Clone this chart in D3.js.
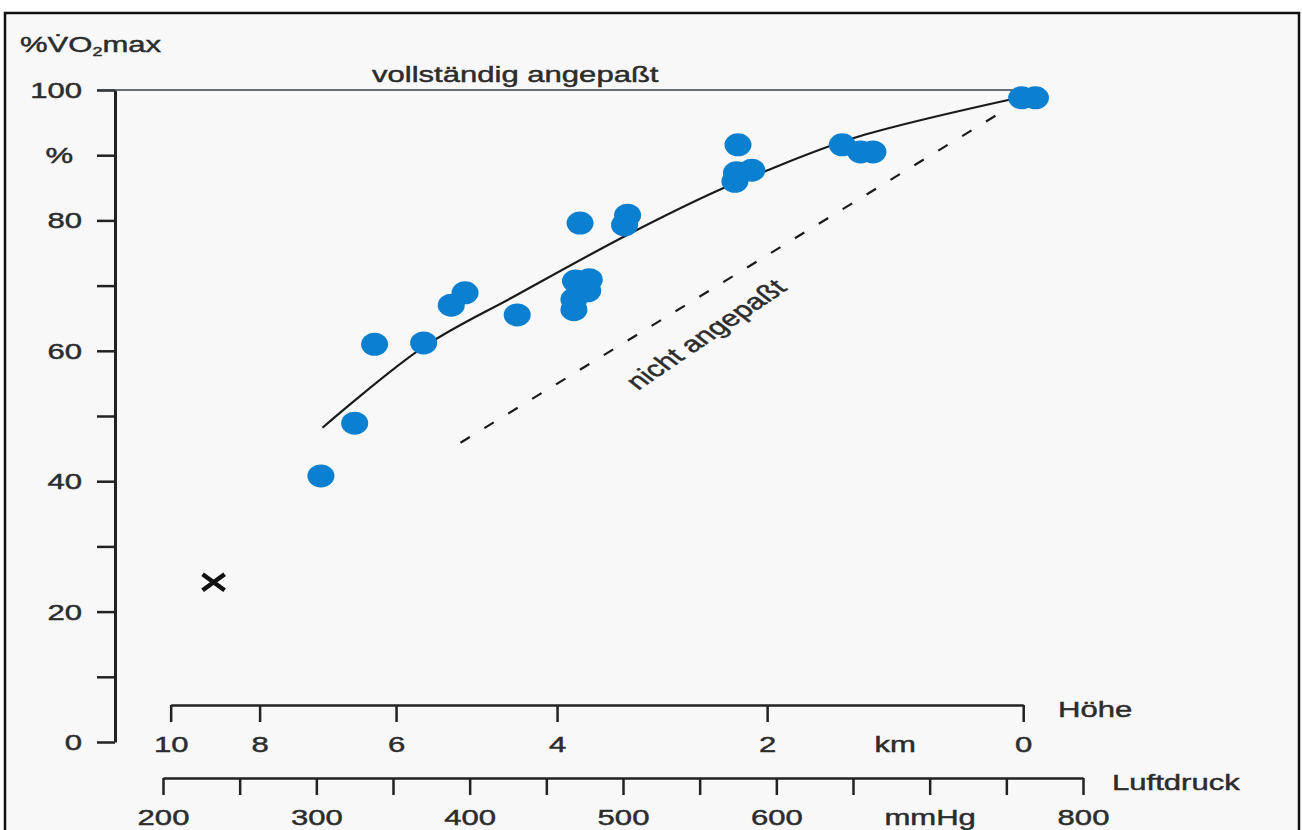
<!DOCTYPE html>
<html>
<head>
<meta charset="utf-8">
<script src="https://cdn.jsdelivr.net/npm/d3@7"></script>
<style>
  html, body { margin: 0; padding: 0; background: #ffffff; }
  svg { display: block; }
  text { font-family: "Liberation Sans", Arial, Helvetica, sans-serif; fill: #2c2c2c; stroke: #2c2c2c; stroke-width: 0.45px; }
</style>
</head>
<body>
<svg id="chart" width="1302" height="830"></svg>
<script>
// Measured points: air pressure (mmHg) and attained share of VO2max (%)
const pointPressure = [303, 325, 338, 370, 388, 397, 431, 472, 503, 501,
                       469, 478, 477, 468, 468, 575, 574, 584, 573,
                       643, 655, 663, 760, 769];
const pointVO2 = [40.8, 48.9, 61.0, 61.2, 67.0, 68.9, 65.5, 79.6, 80.8, 79.3,
                  70.7, 70.9, 69.2, 67.9, 66.3, 91.6, 87.3, 87.7, 86.0,
                  91.6, 90.5, 90.5, 98.8, 98.8];

// Adapted subjects: fitted trend
const trendPressure = [304, 370, 431, 503, 563, 591, 650, 752];
const trendVO2 = [48.2, 60.6, 68.6, 77.8, 84.7, 87.4, 92.6, 98.5];

// Non-adapted subjects
const naPressure = [394, 746];
const naVO2 = [45.9, 96.5];

// Single marker at extreme altitude
const crossPressure = [233];
const crossVO2 = [24.5];

// Axes
const yTicks = [0, 10, 20, 30, 40, 50, 60, 70, 80, 90, 100];
const yTickLabels = ["0", "", "20", "", "40", "", "60", "", "80", "%", "100"];
const pressureTicks = [200, 250, 300, 350, 400, 450, 500, 550, 600, 650, 700, 750, 800];
const pressureTickLabels = ["200", "", "300", "", "400", "", "500", "", "600", "", "mmHg", "", "800"];
const altitudeKm = [10, 8, 6, 4, 2, 0];
const altitudePressure = [205, 263, 352, 457, 594, 761];

const SX = 1.38;      // horizontal stretch of lettering
const FS = 22.5;
const ink = "#222";

const svg = d3.select("#chart");

// page frame
svg.append("rect").attr("x", 5).attr("y", 13).attr("width", 1294).attr("height", 830)
  .attr("fill", "#f8f8f8").attr("stroke", "#111").attr("stroke-width", 2.5);

const x = d3.scaleLinear().domain([200, 800]).range([163, 1083]);
const y = d3.scaleLinear().domain([0, 100]).range([742, 90]);
const altX = d3.scaleLinear().domain(altitudeKm).range(altitudePressure.map(p => x(p)));
const yAxisX = 115;

function label(px, py, str, anchor = "start", size = FS) {
  return svg.append("text")
    .attr("transform", `translate(${px},${py}) scale(${SX},1)`)
    .attr("text-anchor", anchor)
    .attr("font-size", size)
    .text(str);
}

function styleTickText(sel) {
  sel.attr("font-size", FS).attr("font-family", null).attr("fill", null);
}

// Y axis
const yAxis = svg.append("g").attr("transform", `translate(${yAxisX},0)`)
  .call(d3.axisLeft(y).tickValues(yTicks).tickSize(18).tickSizeOuter(0)
    .tickFormat((d, i) => yTickLabels[i]));
yAxis.select(".domain").attr("stroke", ink).attr("stroke-width", 3);
yAxis.selectAll(".tick line").attr("stroke", ink).attr("stroke-width", 2.5);
yAxis.selectAll(".tick text")
  .call(styleTickText)
  .attr("x", (d) => (d === 90 ? -42 : -33) / SX)
  .attr("dy", "0.33em")
  .attr("transform", `scale(${SX},1)`);

// Title of y axis: %V̇O₂max
const yt = svg.append("text")
  .attr("transform", `translate(20,52) scale(${SX},1)`)
  .attr("font-size", FS);
yt.append("tspan").text("%V\u0307O");
yt.append("tspan").attr("font-size", 13).attr("dy", 4).text("2");
yt.append("tspan").attr("dy", -4).text("max");

// fully adapted reference line at 100 %
svg.append("line")
  .attr("x1", yAxisX - 18).attr("x2", x(altitudePressure[altitudePressure.length - 1]))
  .attr("y1", y(100)).attr("y2", y(100))
  .attr("stroke", "#3c4250").attr("stroke-width", 1.6);
label(372, 82, "vollständig angepaßt");

// altitude axis
const altY = 705;
const altAxis = svg.append("g").attr("transform", `translate(0,${altY})`)
  .call(d3.axisBottom(altX).tickValues(altitudeKm).tickSize(17).tickSizeOuter(0)
    .tickFormat(d => d));
altAxis.select(".domain").attr("stroke", ink).attr("stroke-width", 2.5);
altAxis.selectAll(".tick line").attr("stroke", ink).attr("stroke-width", 2.5);
altAxis.selectAll(".tick text")
  .call(styleTickText)
  .attr("y", 47).attr("dy", 0)
  .attr("transform", `scale(${SX},1)`)
  .attr("x", 0);
label(altX(1), altY + 47, "km", "middle");
label(1058, 717, "Höhe");

// pressure axis
const pY = 778;
const pAxis = svg.append("g").attr("transform", `translate(0,${pY})`)
  .call(d3.axisBottom(x).tickValues(pressureTicks).tickSize(17).tickSizeOuter(0)
    .tickFormat((d, i) => pressureTickLabels[i]));
pAxis.select(".domain").attr("stroke", ink).attr("stroke-width", 2.5);
pAxis.selectAll(".tick line").attr("stroke", ink).attr("stroke-width", 2.5);
pAxis.selectAll(".tick text")
  .call(styleTickText)
  .attr("y", 47).attr("dy", 0)
  .attr("transform", `scale(${SX},1)`);
label(1112, 790, "Luftdruck");

// trend of adapted subjects
const trend = trendPressure.map((p, i) => [p, trendVO2[i]]);
svg.append("path")
  .attr("d", d3.line().x(d => x(d[0])).y(d => y(d[1])).curve(d3.curveCatmullRom)(trend))
  .attr("fill", "none").attr("stroke", "#1a1a1a").attr("stroke-width", 2.2);

// non-adapted subjects
const na = naPressure.map((p, i) => [p, naVO2[i]]);
svg.append("path")
  .attr("d", d3.line().x(d => x(d[0])).y(d => y(d[1]))(na))
  .attr("fill", "none").attr("stroke", "#1a1a1a").attr("stroke-width", 2.2)
  .attr("stroke-dasharray", "11 17");
svg.append("text")
  .attr("transform", `translate(713,340) scale(${SX},1) rotate(-43)`)
  .attr("text-anchor", "middle").attr("font-size", FS)
  .text("nicht angepaßt");

// measurements
svg.append("g").selectAll("ellipse")
  .data(pointPressure.map((p, i) => [p, pointVO2[i]]))
  .join("ellipse")
  .attr("cx", d => x(d[0])).attr("cy", d => y(d[1]))
  .attr("rx", 13.5).attr("ry", 11.5)
  .attr("fill", "#0b7fd0");

// cross marker
svg.append("g").selectAll("path")
  .data(crossPressure.map((p, i) => [p, crossVO2[i]]))
  .join("path")
  .attr("transform", d => `translate(${x(d[0])},${y(d[1])})`)
  .attr("d", "M-11,-8L11,8M-11,8L11,-8")
  .attr("stroke", "#111").attr("stroke-width", 4.5).attr("fill", "none");
</script>
</body>
</html>
